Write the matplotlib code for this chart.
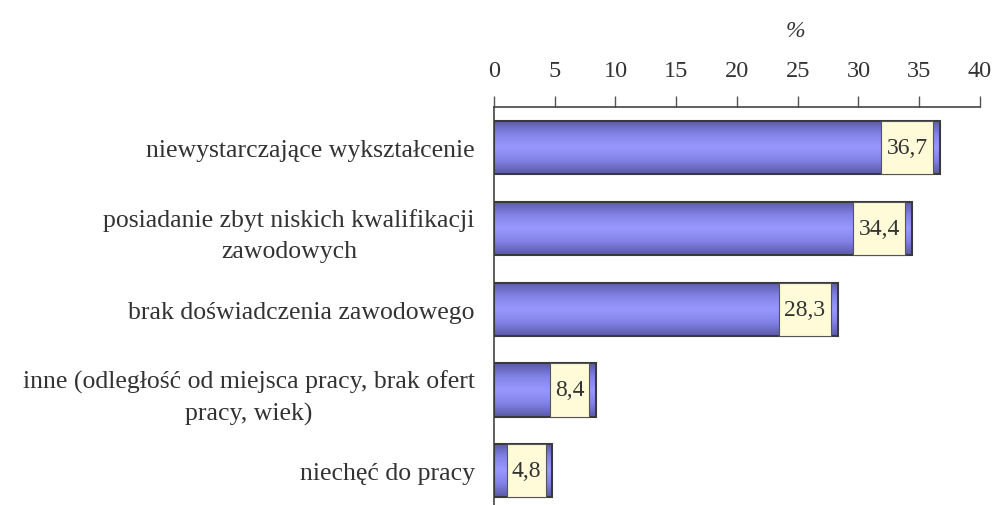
import matplotlib
matplotlib.use("Agg")
import matplotlib.pyplot as plt
import numpy as np
from matplotlib.colors import LinearSegmentedColormap

plt.rcParams["font.family"] = ["Liberation Serif", "DejaVu Serif"]

categories = [
    "niewystarczające wykształcenie",
    "posiadanie zbyt niskich kwalifikacji\nzawodowych",
    "brak doświadczenia zawodowego",
    "inne (odległość od miejsca pracy, brak ofert\npracy, wiek)",
    "niechęć do pracy",
]
values = [36.7, 34.4, 28.3, 8.4, 4.8]
value_labels = ["36,7", "34,4", "28,3", "8,4", "4,8"]
xticks = [0, 5, 10, 15, 20, 25, 30, 35, 40]

text_color = "#333333"
bar_h = 0.66

fig = plt.figure(figsize=(10.05, 5.06), dpi=100)
ax = fig.add_axes([0.4915, -0.012, 0.4836, 0.798])

cmap = LinearSegmentedColormap.from_list(
    "bar", ["#5a5aa8", "#8282e6", "#9898ff", "#8282e6", "#5a5aa8"])
grad = np.linspace(0, 1, 64).reshape(-1, 1)

y = np.arange(len(categories))
bars = ax.barh(y, values, height=bar_h, facecolor="none",
               edgecolor="#3a3a3a", linewidth=1.5, zorder=3)
for b, v in zip(bars, values):
    yc = b.get_y()
    im = ax.imshow(grad, cmap=cmap, aspect="auto", interpolation="bilinear",
                   extent=[0, v, yc + bar_h, yc], zorder=2)
    im.set_clip_path(b)

# label boxes inside the bar end
for yi, v, lab in zip(y, values, value_labels):
    box_w = 1.1 * len(lab) - 0.1
    ax.barh(yi, box_w, left=v - 0.55 - box_w, height=bar_h,
            facecolor="#fffbd8", edgecolor="#555555", linewidth=0.8, zorder=4)
    ax.text(v - 0.55 - box_w / 2, yi, lab, ha="center", va="center",
            fontsize=17, color=text_color, zorder=5)

ax.set_xlim(0, 40)
ax.set_ylim(len(categories) - 0.5, -0.5)
ax.xaxis.tick_top()
ax.set_xticks(xticks)
ax.set_xticklabels([str(t) for t in xticks], fontsize=17.5, color=text_color)
ax.tick_params(axis="x", direction="out", length=8, width=1, color="#555555", pad=11)
ax.set_yticks(y)
ax.set_yticklabels(categories, fontsize=18.5, color=text_color,
                   multialignment="center", linespacing=1.5)
ax.tick_params(axis="y", length=0, pad=14)

for s in ["right", "bottom"]:
    ax.spines[s].set_visible(False)
for s in ["top", "left"]:
    ax.spines[s].set_color("#444444")
    ax.spines[s].set_linewidth(1.2)

ax.text(24.8, 1.0 + 77 / 404, "%", transform=ax.get_xaxis_transform(),
        ha="center", va="center", fontsize=17, style="italic", color=text_color)

fig.savefig("out.png", dpi=100)
